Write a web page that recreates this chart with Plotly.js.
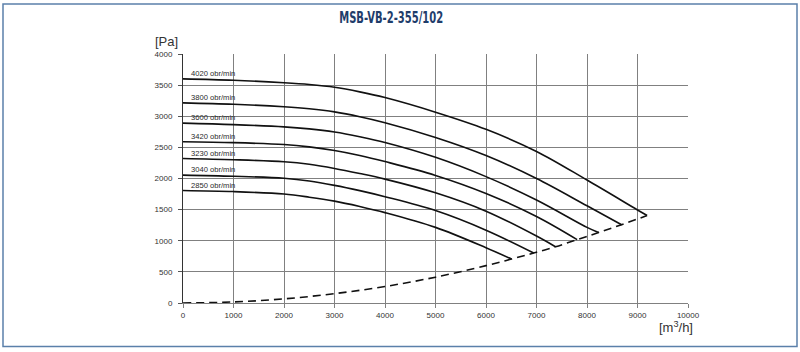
<!DOCTYPE html>
<html>
<head>
<meta charset="utf-8">
<script src="https://cdn.plot.ly/plotly-3.0.1.min.js"></script>
<style>
html,body{margin:0;padding:0;background:#fff;}
#chart{width:800px;height:352px;}
</style>
</head>
<body>
<div id="chart"></div>
<script>
// Fan curves (flow m3/h, pressure Pa)
const speeds = ["4020 obr/min","3800 obr/min","3600 obr/min","3420 obr/min","3230 obr/min","3040 obr/min","2850 obr/min"];
const x4020 = [0,1000,2000,2500,3000,3500,4000,5000,6000,7000,8000,9000,9190];
const y4020 = [3600,3578,3538,3510,3466,3392,3300,3065,2790,2435,1975,1495,1405];
const x3800 = [0,1000,2000,2500,3000,3500,4000,5000,6000,7000,8000,8685];
const y3800 = [3215,3192,3152,3120,3070,2993,2897,2660,2370,2000,1562,1258];
const x3600 = [0,1000,2000,2500,3000,3500,4000,5000,6000,7000,8000,8230];
const y3600 = [2890,2866,2830,2797,2746,2670,2578,2340,2030,1655,1215,1132];
const x3420 = [0,1000,2000,2500,3000,3500,4000,5000,6000,7000,7805];
const y3420 = [2590,2576,2545,2508,2450,2370,2272,2050,1760,1390,1018];
const x3230 = [0,1000,2000,2500,3000,3500,4000,5000,6000,7000,7375];
const y3230 = [2322,2302,2268,2228,2162,2080,1990,1770,1475,1075,903];
const x3040 = [0,1000,2000,2500,3000,3500,4000,5000,6000,6945];
const y3040 = [2055,2036,2003,1960,1890,1805,1708,1485,1170,803];
const x2850 = [0,1000,2000,2500,3000,3500,4000,5000,6000,6505];
const y2850 = [1808,1790,1750,1700,1636,1550,1452,1215,888,706];
// System (limit) curve, dashed
const xSys = [0,1000,2000,3000,4000,5000,6000,6505,6945,7375,7805,8230,8685,9190];
const ySys = [0,17,66,150,265,415,600,706,803,903,1018,1132,1258,1405];
// Label positions (Pa) for speed labels
const labelY = [3687,3305,2981,2673,2396,2143,1891];
const xTicks = [0,1000,2000,3000,4000,5000,6000,7000,8000,9000,10000];
const yTicks = [0,500,1000,1500,2000,2500,3000,3500,4000];

const curveX = [x4020,x3800,x3600,x3420,x3230,x3040,x2850];
const curveY = [y4020,y3800,y3600,y3420,y3230,y3040,y2850];

const traces = curveX.map((xs,i)=>({
  x: xs, y: curveY[i], mode:'lines', name: speeds[i],
  line:{color:'#111', width:1.6, shape:'spline', smoothing:1},
  hoverinfo:'skip'
}));
traces.push({
  x: xSys, y: ySys, mode:'lines', name:'system',
  line:{color:'#111', width:1.6, dash:'8px,5px', shape:'spline', smoothing:1},
  hoverinfo:'skip'
});

const font = 'Liberation Sans, Arial, sans-serif';
const annotations = speeds.map((s,i)=>({
  x: 115, y: labelY[i], xref:'x', yref:'y', text: s, showarrow:false,
  xanchor:'left', yanchor:'middle', font:{family:font, size:7.6, color:'#2a2a2a'}
}));
annotations.push({
  x: (166-183)/505, y: (303-41)/249, xref:'paper', yref:'paper', text:'[Pa]', showarrow:false,
  xanchor:'center', yanchor:'middle', font:{family:font, size:13, color:'#333'}
});
annotations.push({
  x: (695-183)/505, y: (303-327)/249, xref:'paper', yref:'paper', text:'[m<sup>3</sup>/h]', showarrow:false,
  xanchor:'right', yanchor:'middle', font:{family:font, size:13, color:'#333'}
});

const layout = {
  width: 800, height: 352,
  margin:{l:183, r:112, t:54, b:49},
  paper_bgcolor:'#fff', plot_bgcolor:'#fff',
  showlegend:false,
  title:{text:'MSB-VB-2-355/102', x:0.489, xanchor:'center', y:0.95, yanchor:'middle',
    font:{family:'DejaVu Sans Condensed, Liberation Sans Narrow, Arial Narrow, sans-serif', size:16, weight:'bold', color:'#1f3d6b'}},
  xaxis:{range:[0,10000], tickvals:xTicks, ticktext:xTicks.map(String), showgrid:true, gridcolor:'#808080', gridwidth:1,
    zeroline:false, showline:true, linecolor:'#808080', linewidth:1, ticks:'outside', ticklen:4, tickcolor:'#808080',
    tickfont:{family:font, size:8, color:'#333'}, fixedrange:true},
  yaxis:{range:[0,4000], tickvals:yTicks, ticktext:yTicks.map(String), showgrid:true, gridcolor:'#808080', gridwidth:1,
    zeroline:false, showline:true, linecolor:'#333', linewidth:1, ticks:'outside', ticklen:4, tickcolor:'#555',
    tickfont:{family:font, size:8, color:'#333'}, ticklabelstandoff:4, fixedrange:true},
  annotations: annotations,
  shapes:[{type:'rect', xref:'paper', yref:'paper', x0:(3-183)/505, x1:(797-183)/505, y0:(303-346.5)/249, y1:(303-4)/249,
    line:{color:'#5b80aa', width:1.5}, fillcolor:'rgba(0,0,0,0)', layer:'below'}]
};

Plotly.newPlot('chart', traces, layout, {staticPlot:true, displayModeBar:false}).then(function(){
  const t = document.querySelector('.gtitle');
  if (t) { t.setAttribute('textLength', '104'); t.setAttribute('lengthAdjust', 'spacingAndGlyphs'); }
});
</script>
</body>
</html>
